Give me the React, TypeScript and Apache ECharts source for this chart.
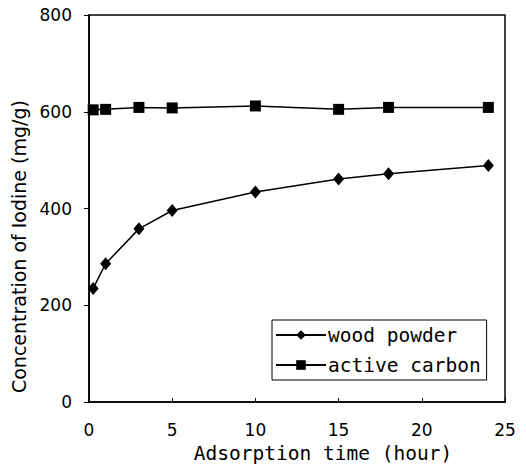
import React, { useEffect, useRef } from "react";
import * as echarts from "echarts";

const hours = [0.25, 1, 3, 5, 10, 15, 18, 24];
const woodPowder = [235, 286, 358, 396, 434, 461, 472, 489];
const activeCarbon = [604, 605, 609, 608, 612, 605, 609, 609];
const seriesNames = ["wood powder", "active carbon"];
const xTitle = "Adsorption time (hour)";
const yTitle = "Concentration of Iodine (mg/g)";

export default function App() {
  const ref = useRef<HTMLDivElement>(null);
  useEffect(() => {
    if (!ref.current) return;
    const chart = echarts.init(ref.current, undefined, { renderer: "svg" });
    const font = "DejaVu Sans";
    chart.setOption({
      animation: false,
      backgroundColor: "#ffffff",
      grid: {
        left: 89,
        right: 21,
        top: 15,
        bottom: 62,
        show: true,
        borderColor: "#000",
        borderWidth: 1.5,
      },
      legend: {
        data: seriesNames,
        orient: "vertical",
        left: 272,
        top: 320,
        padding: [5, 6, 5, 3],
        itemWidth: 50,
        itemHeight: 12,
        itemGap: 10,
        borderColor: "#000",
        borderWidth: 1,
        backgroundColor: "#fff",
        textStyle: { fontFamily: "DejaVu Sans Mono", fontSize: 19.5, color: "#000", padding: [0, 0, 0, -3] },
      },
      xAxis: {
        type: "value",
        min: 0,
        max: 25,
        interval: 5,
        name: xTitle,
        nameLocation: "middle",
        nameGap: 39,
        nameTextStyle: { fontFamily: "DejaVu Sans Mono", fontSize: 19.5, color: "#000", padding: [0, 0, 0, 52] },
        axisLine: { lineStyle: { color: "#000", width: 1.5 } },
        axisTick: { inside: true, length: 4, lineStyle: { color: "#000" } },
        axisLabel: { fontFamily: font, fontSize: 17, color: "#000", margin: 19 },
        splitLine: { show: false },
      },
      yAxis: {
        type: "value",
        min: 0,
        max: 800,
        interval: 200,
        name: yTitle,
        nameLocation: "middle",
        nameGap: 58,
        nameTextStyle: { fontFamily: font, fontSize: 19, color: "#000", padding: [0, 76, 0, 0] },
        axisLine: { show: true, lineStyle: { color: "#000", width: 1.5 } },
        axisTick: { show: true, inside: false, length: 5, lineStyle: { color: "#000" } },
        axisLabel: { fontFamily: font, fontSize: 17, color: "#000", margin: 17 },
        splitLine: { show: false },
      },
      series: [
        {
          name: seriesNames[0],
          type: "line",
          data: hours.map((h, i) => [h, woodPowder[i]]),
          symbol: "diamond",
          symbolSize: [11, 13],
          showAllSymbol: true,
          lineStyle: { color: "#000", width: 1.5 },
          itemStyle: { color: "#000" },
        },
        {
          name: seriesNames[1],
          type: "line",
          data: hours.map((h, i) => [h, activeCarbon[i]]),
          symbol: "rect",
          symbolSize: 11,
          showAllSymbol: true,
          lineStyle: { color: "#000", width: 1.5 },
          itemStyle: { color: "#000" },
        },
      ],
    });
    return () => chart.dispose();
  }, []);
  return (
    <div
      ref={ref}
      style={{ position: "fixed", left: 0, top: 0, width: 526, height: 468 }}
    />
  );
}
